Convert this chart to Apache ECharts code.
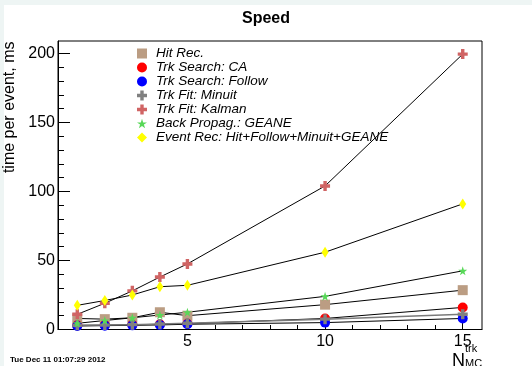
<!DOCTYPE html>
<html><head><meta charset="utf-8">
<script src="https://cdn.jsdelivr.net/npm/echarts@6/dist/echarts.min.js"></script>
<style>html,body{margin:0;padding:0;background:#eef5f4;}#c{width:532px;height:366px;}</style>
</head><body><div id="c"></div>
<script>
const nTracks = [1, 2, 3, 4, 5, 10, 15];
const hitRec = [8, 7.5, 8.5, 12.5, 10, 18, 28.5];
const trkCA = [3, 3.2, 3.4, 3.8, 4.2, 8, 16];
const trkFollow = [2.5, 2.8, 3, 3.3, 3.8, 5, 8];
const fitMinuit = [3, 3.2, 3.5, 4, 4.5, 7.5, 11];
const fitKalman = [11, 19, 28, 38, 47.5, 104, 199.5];
const backGeane = [4.5, 6.5, 8.5, 10.5, 12.5, 24, 42.5];
const eventRec = [17.5, 21, 25, 31, 32, 56, 91];
const seriesNames = ['Hit Rec.', 'Trk Search: CA', 'Trk Search: Follow', 'Trk Fit: Minuit', 'Trk Fit: Kalman', 'Back Propag.: GEANE', 'Event Rec: Hit+Follow+Minuit+GEANE'];
const xTickValues = [5, 10, 15];
const xMinorValues = [1, 2, 3, 4, 6, 7, 8, 9, 11, 12, 13, 14];
const yTickValues = [0, 50, 100, 150, 200];
const yMinorValues = [10, 20, 30, 40, 60, 70, 80, 90, 110, 120, 130, 140, 160, 170, 180, 190];

const FONT = 'Liberation Sans, Arial, Helvetica, sans-serif';
const crossPath = 'path://M3.3,0H6.7V3.3H10V6.7H6.7V10H3.3V6.7H0V3.3H3.3Z';
const starPath = 'path://M10,0L12.245,6.91L19.51,6.91L13.63,11.18L15.88,18.09L10,13.82L4.12,18.09L6.37,11.18L0.49,6.91L7.755,6.91Z';

const styles = [
  {color: '#bb9d83', symbol: 'rect', size: 10, line: '#000'},
  {color: '#ff0000', symbol: 'circle', size: 10, line: '#000'},
  {color: '#0000ff', symbol: 'circle', size: 10, line: '#000'},
  {color: '#808080', symbol: crossPath, size: 10, line: '#7a7a7a'},
  {color: '#d06464', symbol: crossPath, size: 10, line: '#000'},
  {color: '#58d858', symbol: starPath, size: 9, line: '#000'},
  {color: '#ffff00', symbol: 'diamond', size: [7, 11], line: '#000'}
];
const values = [hitRec, trkCA, trkFollow, fitMinuit, fitKalman, backGeane, eventRec];

const series = values.map((vals, i) => ({
  name: seriesNames[i],
  type: 'line',
  xAxisIndex: 0,
  yAxisIndex: 0,
  data: nTracks.map((x, j) => [x, vals[j]]),
  symbol: styles[i].symbol,
  symbolSize: styles[i].size,
  showAllSymbol: true,
  itemStyle: {color: styles[i].color, borderWidth: 0},
  lineStyle: {color: styles[i].line, width: i === 3 ? 1.5 : 1},
  emphasis: {disabled: true},
  animation: false
}));

const chart = echarts.init(document.getElementById('c'), null, {renderer: 'canvas'});
chart.setOption({
  animation: false,
  backgroundColor: 'transparent',
  title: {
    text: 'Speed', left: 'center', top: 6,
    textStyle: {fontFamily: FONT, fontWeight: 'bold', fontSize: 16, color: '#000'}
  },
  legend: {
    orient: 'vertical', left: 132, top: 41.5, padding: 5,
    itemWidth: 10, itemHeight: 10, itemGap: 0,
    selectedMode: false,
    data: seriesNames.map((n, i) => ({name: n, icon: styles[i].symbol})),
    textStyle: {fontFamily: FONT, fontStyle: 'italic', fontSize: 13.5, color: '#000', lineHeight: 13.7, padding: [0, 0, 0, 4]}
  },
  grid: {left: 58, top: 41, right: 50, bottom: 36.5, show: true, borderColor: '#000', borderWidth: 1, backgroundColor: 'transparent'},
  xAxis: [
    {
      type: 'value', min: 0.3, max: 15.7, position: 'bottom',
      axisLine: {show: true, onZero: false, lineStyle: {color: '#000', width: 1}},
      axisTick: {show: true, inside: true, length: 9, customValues: xTickValues, lineStyle: {color: '#000'}},
      axisLabel: {customValues: xTickValues, fontFamily: FONT, fontSize: 16, color: '#000', margin: 4},
      splitLine: {show: false}
    },
    {
      type: 'value', min: 0.3, max: 15.7, position: 'bottom',
      axisLine: {show: false},
      axisTick: {show: true, inside: true, length: 4.5, customValues: xMinorValues, lineStyle: {color: '#000'}},
      axisLabel: {show: false},
      splitLine: {show: false}
    }
  ],
  yAxis: [
    {
      type: 'value', min: 0, max: 209, position: 'left',
      axisLine: {show: true, onZero: false, lineStyle: {color: '#000', width: 1}},
      axisTick: {show: true, inside: true, length: 12, customValues: yTickValues, lineStyle: {color: '#000'}},
      axisLabel: {customValues: yTickValues, fontFamily: FONT, fontSize: 16, color: '#000', margin: 3},
      splitLine: {show: false}
    },
    {
      type: 'value', min: 0, max: 209, position: 'left',
      axisLine: {show: false},
      axisTick: {show: true, inside: true, length: 6, customValues: yMinorValues, lineStyle: {color: '#000'}},
      axisLabel: {show: false},
      splitLine: {show: false}
    }
  ],
  graphic: [
    {type: 'rect', z: -10, silent: true, shape: {x: 4, y: 5, width: 528, height: 361}, style: {fill: '#ffffff'}},
    {type: 'text', x: 10, y: 41.5, rotation: Math.PI / 2, silent: true,
     style: {text: 'time per event, ms', font: '16px ' + FONT, fill: '#000', align: 'right', verticalAlign: 'middle'}},
    {type: 'text', x: 452, y: 352, silent: true,
     style: {text: 'N', font: '18px ' + FONT, fill: '#000', align: 'left', verticalAlign: 'top'}},
    {type: 'text', x: 465, y: 343, silent: true,
     style: {text: 'trk', font: '11px ' + FONT, fill: '#000', align: 'left', verticalAlign: 'top'}},
    {type: 'text', x: 465, y: 358, silent: true,
     style: {text: 'MC', font: '11px ' + FONT, fill: '#000', align: 'left', verticalAlign: 'top'}},
    {type: 'text', x: 10, y: 360, silent: true,
     style: {text: 'Tue Dec 11 01:07:29 2012', font: 'bold 8px ' + FONT, fill: '#000', align: 'left', verticalAlign: 'middle'}}
  ],
  series: series
});
</script></body></html>
